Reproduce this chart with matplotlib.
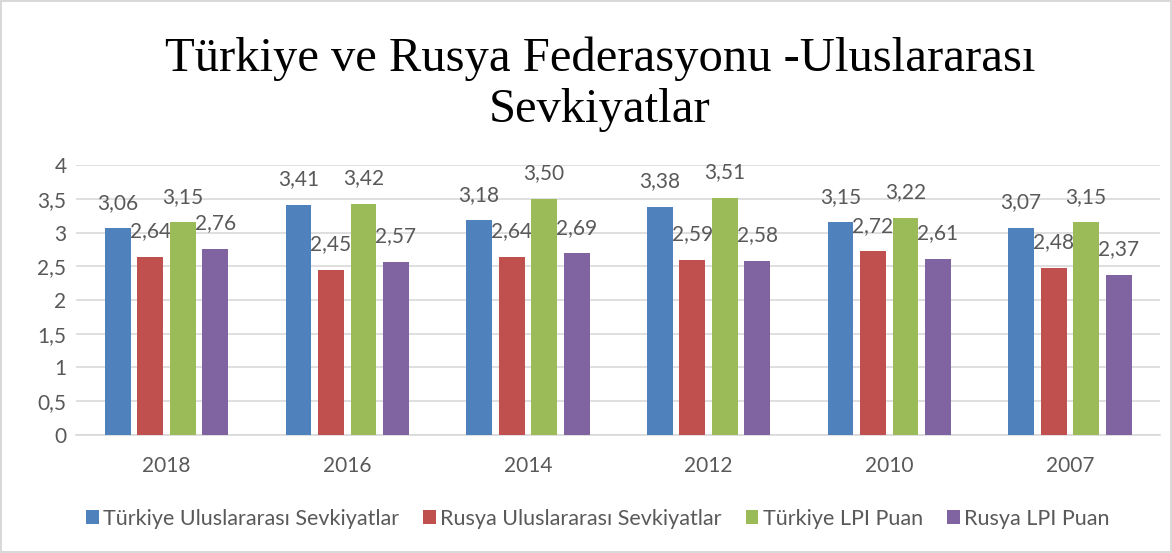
import matplotlib.pyplot as plt
import numpy as np

# Veriler
yillar = ["2018", "2016", "2014", "2012", "2010", "2007"]
tr_sevkiyat = [3.06, 3.41, 3.18, 3.38, 3.15, 3.07]
ru_sevkiyat = [2.64, 2.45, 2.64, 2.59, 2.72, 2.48]
tr_lpi = [3.15, 3.42, 3.50, 3.51, 3.22, 3.15]
ru_lpi = [2.76, 2.57, 2.69, 2.58, 2.61, 2.37]

seriler = [
    ("Türkiye Uluslararası Sevkiyatlar", tr_sevkiyat, "#4F81BD"),
    ("Rusya Uluslararası Sevkiyatlar", ru_sevkiyat, "#C0504D"),
    ("Türkiye LPI Puan", tr_lpi, "#9BBB59"),
    ("Rusya LPI Puan", ru_lpi, "#8064A2"),
]

yazi_rengi = "#595959"
plt.rcParams["font.family"] = ["Lato", "DejaVu Sans"]

fig = plt.figure(figsize=(11.72, 5.53), dpi=100)
fig.patch.set_edgecolor("#D9D9D9")
fig.patch.set_linewidth(1.5)
ax = fig.add_axes([0.065, 0.2134, 0.925, 0.4882])

x = np.arange(len(yillar))
adim = 0.18
genislik = 0.143
for i, (ad, degerler, renk) in enumerate(seriler):
    konum = x + (i - 1.5) * adim
    cubuklar = ax.bar(konum, degerler, genislik, color=renk, label=ad, zorder=3)
    for c, d in zip(cubuklar, degerler):
        ax.annotate(f"{d:.2f}".replace(".", ","),
                    (c.get_x() + c.get_width() / 2, d),
                    xytext=(0, 18.5), textcoords="offset points",
                    ha="center", va="center", fontsize=15, color=yazi_rengi)

ax.set_xlim(-0.5, len(yillar) - 0.5)
ax.set_ylim(0, 4)
ax.set_yticks(np.arange(0, 4.01, 0.5))
ax.set_yticklabels(["0", "0,5", "1", "1,5", "2", "2,5", "3", "3,5", "4"])
ax.set_xticks(x)
ax.set_xticklabels(yillar)
ax.tick_params(axis="both", length=0, labelsize=15, colors=yazi_rengi)
ax.tick_params(axis="x", pad=15)
ax.tick_params(axis="y", pad=7)
ax.grid(axis="y", color="#D9D9D9", linewidth=1.2, zorder=0)
for s in ["top", "right", "left"]:
    ax.spines[s].set_visible(False)
ax.spines["bottom"].set_color("#D9D9D9")
ax.spines["bottom"].set_linewidth(1.2)

fig.text(0.512, 0.848, "Türkiye ve Rusya Federasyonu -Uluslararası\nSevkiyatlar",
         ha="center", va="center", fontsize=35, family="Liberation Serif",
         linespacing=1.2, color="black")

fig.legend(loc="center", bbox_to_anchor=(0.51, 0.062), ncol=4, frameon=False,
           fontsize=15.5, handlelength=0.6, handleheight=0.6, handletextpad=0.2,
           columnspacing=1.1, labelcolor=yazi_rengi)

fig.savefig("out.png", dpi=100)
